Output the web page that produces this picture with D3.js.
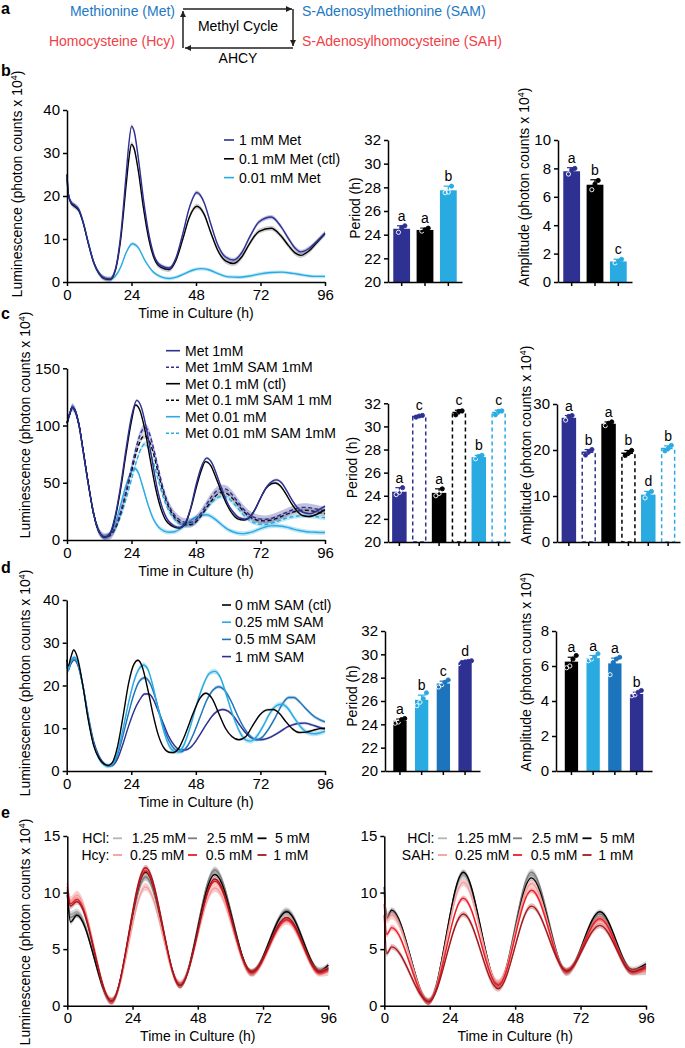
<!DOCTYPE html>
<html><head><meta charset="utf-8">
<script src="https://cdn.jsdelivr.net/npm/d3@7"></script>
<style>
body{margin:0;background:#fff}
svg{display:block;font-family:"Liberation Sans",Arial,Helvetica,sans-serif}
</style>
</head><body>
<svg id="fig" width="685" height="1048"></svg>
<script>
// ================= DATA =================
const hourTicks = [0, 24, 48, 72, 96];

// ---- panel b : luminescence traces [time h, value x10^4] ----
const bMet1 = [[0,25],[0.5,20.5],[1.5,18.6],[3,17.8],[4.5,16.8],[6,14],[8,9],[10,4.5],[12,2],[14,0.9],[16,0.7],[18,3],[20,11],[22,25],[23,32],[24,36.2],[25,35],[26.5,29],[28.5,19],[30.5,11],[32.5,6],[35,3.8],[38,3.2],[40.5,5.5],[43,11],[45.5,17.2],[48.3,20.8],[51,18.5],[53.5,13.5],[56,8.8],[59,5.8],[62,5.1],[65,6.8],[68,10.5],[71.5,14],[76,15.1],[79.5,13],[82.5,10],[85,7.8],[87,7.0],[90,7.8],[93,9.5],[96,11.4]];
const bCtl = [[0,25],[0.5,20.5],[1.5,18.4],[3,17.5],[4.5,16.5],[6,13.8],[8,8.8],[10,4.4],[12,1.9],[14,0.8],[16,0.6],[18,2.7],[20,10],[22,22.5],[23,28.5],[24,32],[25,31],[26.5,26],[28.5,17],[30.5,9.8],[32.5,5.4],[35,3.4],[38,2.9],[40.5,5],[43,9.8],[45.5,15],[48.3,17.6],[51,15.8],[53.5,11.5],[56,7.5],[59,4.9],[62,4.3],[65,5.8],[68,9],[71.5,11.8],[76,12.5],[79.5,10.8],[82.5,8.4],[85,6.7],[87,6.2],[90,7.2],[93,9.2],[96,11.2]];
const bLow = [[0,24],[0.5,20.3],[1.5,18.4],[3,17.5],[4.5,16.5],[6,13.8],[8,8.8],[10,4.4],[12,1.9],[14,0.8],[16,0.6],[18,1.4],[20,3.5],[22,6.8],[24.3,8.9],[26.5,8],[29,5],[32,2.4],[35,1.2],[38,0.8],[41,1.2],[44,2],[47,2.8],[50,3.1],[53,2.8],[56,2],[60,1.2],[64,1.1],[68,1.4],[72,1.9],[76,2.2],[80,2.3],[84,2],[88,1.6],[92,1.3],[96,1.3]];
const bLegend = ["1 mM Met", "0.1 mM Met (ctl)", "0.01 mM Met"];

const bPeriodMean = [24.5, 24.4, 27.75];
const bPeriodSem = [0.25, 0.15, 0.35];
const bPeriodDots = [[24.2,24.6,24.75],[24.3,24.4,24.55],[27.55,27.6,28.1]];
const bPeriodLetters = ["a","a","b"];
const bAmpMean = [7.8, 6.85, 1.45];
const bAmpSem = [0.25, 0.35, 0.15];
const bAmpDots = [[7.6,7.9,8.0],[6.5,6.9,7.15],[1.35,1.45,1.6]];
const bAmpLetters = ["a","b","c"];

// ---- panel c ----
const cStart = [[0,102],[1,110],[2,116],[3,113],[4.5,100],[6,78],[8,48],[10,22],[12,7],[14,2.5]];
const cMet1 = cStart.concat([[16,6],[18,22],[20,48],[22,80],[24,108],[26,122],[27.5,117],[29.5,98],[31.5,72],[33.5,46],[35.5,28],[38,16],[42,11],[44,15],[46,28],[48,48],[50,64],[52,71.5],[54,67],[56,55],[58,42],[60,31],[62,24],[64,19.5],[66.3,18.2],[68.5,21],[70.5,29],[72.5,39],[74.5,47],[76.5,51.5],[78,52.5],[80,49.5],[82,42],[84,34],[86,27.5],[88,24],[90.5,23],[93,25.5],[96,29.6]]);
const cMet1Sam = cStart.concat([[16,4],[18,11],[20,25],[22,43],[24,63],[26,83],[28,96],[29,98],[30.5,94],[32,82],[34,62],[36,43],[38,30],[40,22],[42,17.5],[44,15.5],[46,15.5],[48,18],[50,24],[52,31.5],[54,38.5],[56,43.5],[57.6,45],[59.5,44],[61.5,39.5],[63.5,33.5],[65.5,27.5],[67.5,23],[69.5,20],[71.5,18.5],[73.5,18],[75.5,18.5],[77.5,20],[79.5,22],[81.5,24],[83.5,26],[85.5,27.5],[88,28.5],[90,28.3],[92,27.5],[94,26.5],[96,25.5]]);
const cCtl = cStart.concat([[16,5.5],[18,20],[20,45],[22,76],[24,104],[25.5,118],[27,114],[29,96],[31,70],[33,45],[35,27],[37.5,15],[41.5,10.5],[44,14],[46,27],[48,45],[50,61],[51.5,68.5],[53.5,65],[55.5,54],[57.5,42],[59.5,31],[61.5,23],[63.5,18.5],[66,17.5],[68,20],[70,27],[72,36.5],[74,45],[76,49],[77.5,49.8],[79.5,47],[81.5,40],[83.5,32],[85.5,25.5],[87.5,21.5],[90,20.5],[93,22.5],[96,26.5]]);
const cCtlSam = cStart.concat([[16,4],[18,10.5],[20,23.5],[22,41],[24,60],[26,78],[27.8,89],[28.8,91],[30.3,88],[32,77],[34,58],[36,40.5],[38,28],[40,20],[42,15.5],[44,13.5],[46,13.5],[48,16],[50,21.5],[52,28.5],[54,35],[56,40],[57.5,41.5],[59.5,40.5],[61.5,36.5],[63.5,31],[65.5,25.5],[67.5,21],[69.5,18.3],[71.5,17],[73.5,16.7],[75.5,17.2],[77.5,18.5],[79.5,20.3],[81.5,22.3],[83.5,24],[85.5,25.3],[88,26],[90,25.8],[92,25],[94,24],[96,23]]);
const cLow = cStart.concat([[16,5],[18,15],[20,31],[22,48],[23.8,59],[25.2,62.5],[26.5,59],[28,48],[30,32],[32,19],[34,11.5],[36,8],[38,6.8],[40,7.2],[42,9.5],[44,13],[46,17],[48,20],[50,21.7],[52,22],[54,20],[56,16.5],[58,12.5],[60,9],[62,7],[64,5.8],[66,5.6],[68,6.5],[70,8],[72,10],[74,11.5],[76,12.3],[78,12.5],[80,12],[82,11],[84,9.7],[86,8.5],[88,7.6],[90,7],[92,6.8],[94,6.6],[96,6.6]]);
const cLowSam = cStart.concat([[16,4],[18,10],[20,21],[22,36],[24,53],[26,70],[27.8,81],[29,84],[30.5,80],[32,69],[34,52],[36,36],[38,25],[40,18],[42,14],[44,12.5],[46,13],[48,16],[50,21.5],[52,27.5],[54,33],[56,37],[58,38.3],[60,36.5],[62,32],[64,26.5],[66,21],[68,17],[70,14.8],[72,13.7],[74,13.6],[76,14.5],[78,16],[80,17.8],[82,19.3],[84,20.3],[86,21],[88,21.2],[90,21],[92,20.5],[94,20],[96,19.5]]);
const cLegend = ["Met 1mM","Met 1mM SAM 1mM","Met 0.1 mM (ctl)","Met 0.1 mM SAM 1 mM","Met 0.01 mM","Met 0.01 mM SAM 1mM"];

const cPeriodMean = [24.35, 30.85, 24.25, 31.2, 27.35, 31.2];
const cPeriodSem = [0.35, 0.1, 0.35, 0.2, 0.15, 0.2];
const cPeriodDots = [[24.1,24.3,24.7],[30.8,30.9,30.95],[24.0,24.2,24.6],[31.0,31.3,31.35],[27.2,27.4,27.5],[31.0,31.3,31.35]];
const cPeriodLetters = ["a","c","a","c","b","c"];
const cAmpMean = [27.0, 19.5, 25.7, 19.3, 10.3, 20.3];
const cAmpSem = [0.5, 0.6, 0.4, 0.6, 0.7, 0.6];
const cAmpDots = [[26.5,27.3,27.5],[18.9,19.6,20.1],[25.3,25.8,26.1],[18.8,19.3,19.9],[9.6,10.4,11.0],[19.8,20.3,21.0]];
const cAmpLetters = ["a","b","a","b","d","b"];

// ---- panel d ----
const dCtl = [[0,26],[0.5,24.5],[1.5,26.5],[2.6,28.3],[4,26.5],[6,20],[8,12],[10,6],[12,3],[14,1.6],[15.5,1.3],[17,2],[19,6],[21,13],[23,20.5],[25,25],[26.5,25.9],[28,24.5],[30,19.5],[32,13.5],[34,8.5],[36,5.5],[38,4.4],[39.6,4.3],[41.5,5.2],[44,8.5],[47,13.5],[49.5,17],[51.7,18.2],[54,17],[56.5,13.5],[59,10],[61.5,8],[64,7.3],[66.5,8],[69,10.5],[72,13.3],[74.5,14.3],[76.8,14.4],[79,13.5],[81.5,11.5],[84,9.8],[86.5,9],[89,9.1],[91.5,9.5],[94,9.9],[96,10]];
const dSam025 = [[0,25],[0.5,23.5],[1.5,25.5],[2.8,26.5],[4,25.5],[6,20],[8,12.5],[10,6.3],[12,3],[14,1.5],[15.5,1.2],[17,1.6],[19,4.5],[21,10],[23,16],[25,21],[27,24],[28.5,24.8],[30,24],[32,20],[34,14.5],[36,9.5],[38,6],[40,4.6],[41.5,4.5],[43.5,6],[46,10.5],[48.5,16],[51,20.5],[53,22.8],[55,23.3],[57,22],[59,18.5],[61.5,13.5],[64,9.5],[66.5,7.3],[68.5,7],[70.5,8],[73,10.5],[75.5,13.5],[78,15.3],[80,15.6],[82,14.8],[84.5,12.5],[87,10.3],[89.5,9],[92,8.7],[94,8.9],[96,9.3]];
const dSam05 = [[0,25],[0.5,23.5],[1.5,25.5],[2.8,26.5],[4,25.5],[6,20],[8,12.5],[10,6.3],[12,3],[14,1.5],[15.5,1.2],[17,1.5],[19,4],[21,8.5],[23,13.5],[25,18],[27,21],[29,21.8],[31,20.5],[33,17],[35,12.5],[37,8.5],[39,6],[41,4.7],[42.5,4.5],[44.5,5.5],[47,8.5],[49.5,12.5],[52,16.5],[54.5,19],[56.5,19.7],[58.5,19],[61,16.5],[63.5,13],[66,10],[68.5,8],[70.5,7.3],[72.5,7.8],[75,9.8],[77.5,12.5],[80,15.5],[82.5,17.2],[84.5,17.2],[86.5,16.2],[89,14.5],[91.5,13],[94,12],[96,11.5]];
const dSam1 = [[0,25],[0.5,23.5],[1.5,25],[2.8,26],[4,25],[6,20],[8,13],[10,7],[12,3.5],[14,1.7],[15.5,1.2],[17,1.3],[19,3],[21,6.5],[23,10.5],[25,14],[27,16.5],[29,18],[30.5,18],[32,17],[34,14],[36,11],[38,8],[40,6],[42,5],[44,4.9],[46,5.5],[48,7],[50,9],[52,11],[54,12.8],[56,14],[58,14.4],[60,14],[62,12.8],[64,11],[66,9.3],[68,8],[70,7.4],[72,7.3],[74,7.5],[76,8],[78,8.7],[80,9.5],[82,10.3],[84,10.8],[86,11.1],[88.5,11.2],[91,10.8],[93.5,10.3],[96,9.8]];
const dLegend = ["0 mM SAM (ctl)","0.25 mM SAM","0.5 mM SAM","1 mM SAM"];

const dPeriodMean = [24.3, 26.1, 27.5, 29.3];
const dPeriodSem = [0.15, 0.4, 0.2, 0.1];
const dPeriodDots = [[24.1,24.2,24.4,24.5],[25.6,25.9,26.2,26.7],[27.2,27.4,27.6,27.8],[29.2,29.3,29.35,29.4,29.45]];
const dPeriodLetters = ["a","b","c","d"];
const dAmpMean = [6.25, 6.45, 6.15, 4.4];
const dAmpSem = [0.25, 0.15, 0.3, 0.1];
const dAmpDots = [[5.9,6.0,6.4,6.6],[6.3,6.4,6.5,6.7],[5.5,6.2,6.4,6.5],[4.3,4.35,4.5,4.6]];
const dAmpLetters = ["a","a","a","b"];

// ---- panel e : key points (peaks / troughs) ----
const eTimeL = [0, 1.2, 3.5, 16.3, 28.8, 41.5, 54.3, 67.8, 80.7, 92.9, 96];
const eHcl125L = [10.3, 8.1, 8.3, 0.4, 11.3, 1.8, 11.9, 2.9, 8.3, 3.0, 3.3];
const eHcl25L  = [10.0, 7.8, 8.1, 0.4, 11.4, 1.8, 12.0, 2.9, 8.4, 3.1, 3.4];
const eHcl5L   = [9.8, 7.4, 8.0, 0.4, 11.8, 1.8, 11.6, 3.0, 8.3, 3.1, 3.6];
const eHcy025  = [10.8, 9.3, 9.8, 0.4, 10.5, 1.9, 10.4, 2.9, 7.5, 2.9, 3.0];
const eHcy05   = [10.5, 9.0, 9.4, 0.4, 11.9, 1.8, 11.0, 2.9, 7.6, 2.9, 3.2];
const eHcy1    = [10.2, 8.8, 9.2, 0.4, 12.2, 1.8, 11.2, 3.0, 7.8, 3.0, 3.3];
const eTimeR = [0, 0.9, 2.7, 16.3, 29, 41.8, 54, 66.9, 79.1, 91, 96];
const eHcl125R = [10.0, 8.0, 8.3, 0.35, 11.5, 1.9, 11.6, 2.9, 7.9, 3.0, 3.0];
const eHcl25R  = [10.0, 7.8, 8.3, 0.35, 11.7, 1.9, 11.8, 3.0, 8.1, 3.0, 3.4];
const eHcl5R   = [10.5, 7.7, 8.45, 0.35, 11.8, 1.9, 11.3, 3.0, 8.3, 3.2, 3.7];
const eSah025  = [10.2, 7.6, 8.0, 0.35, 10.9, 2.0, 10.8, 3.0, 7.6, 3.0, 3.1];
const eSah05   = [9.0, 6.3, 6.9, 0.35, 9.5, 1.8, 10.2, 3.0, 7.7, 3.0, 3.3];
const eSah1    = [8.0, 4.6, 5.2, 0.35, 8.1, 1.5, 8.8, 3.1, 7.1, 3.0, 3.5];
const eHclLabels = ["1.25 mM","2.5 mM","5 mM"];
const eHcyLabels = ["0.25 mM","0.5 mM","1 mM"];

// ================= STYLE =================
const NAVY="#2e3192", SKY="#29abe2", MID="#1c75bc", BLK="#000000";
const LGREY="#b5b5b5", GREY="#7d7d7d", PINK="#f59c9c", RED="#ed1c24", DRED="#a3161b";
const TXTBLUE="#2378c3", TXTRED="#ef4146";

const svg = d3.select("#fig");
const zip = (t, v) => t.map((d, i) => [d, v[i]]);

function styleAxis(a, fs){
  a.attr("font-size", fs).attr("font-family", null);
  a.select(".domain").attr("stroke","#000").attr("stroke-width",1.5);
  a.selectAll(".tick line").attr("stroke","#000").attr("stroke-width",1.5);
  a.selectAll(".tick text").attr("fill","#000");
}
function rotLabel(x, cy, main, sup, tail){
  const t = svg.append("text").attr("transform",`translate(${x},${cy}) rotate(-90)`)
    .attr("text-anchor","middle").attr("font-size",14).attr("fill","#000");
  t.append("tspan").text(main);
  if (sup){
    t.append("tspan").attr("dy",-5).attr("font-size",9).text(sup);
    t.append("tspan").attr("dy",5).text(tail);
  }
}
function panelLetter(l, x, y){
  svg.append("text").attr("x",x).attr("y",y).attr("font-size",16).attr("font-weight","bold").text(l);
}

function lineChart(o){
  const x = d3.scaleLinear().domain([0,96]).range([o.x0,o.x1]);
  const y = d3.scaleLinear().domain([0,o.yMax]).range([o.yBot,o.yTop]);
  const g = svg.append("g");
  o.series.forEach(s=>{
    const area = d3.area().curve(d3.curveMonotoneX).x(d=>x(d[0]))
      .y0(d=>y(Math.max(0,d[1]-s.sem))).y1(d=>y(d[1]+s.sem));
    g.append("path").datum(s.pts).attr("d",area)
      .attr("fill", s.color===BLK ? "#777" : s.color).attr("opacity", s.bandOp || 0.3);
    const line = d3.line().curve(d3.curveMonotoneX).x(d=>x(d[0])).y(d=>y(d[1]));
    g.append("path").datum(s.pts).attr("d",line).attr("fill","none")
      .attr("stroke",s.color).attr("stroke-width",1.4)
      .attr("stroke-dasharray", s.dash ? "4,2.5" : null);
  });
  const ya = g.append("g").attr("transform",`translate(${o.x0},0)`)
    .call(d3.axisLeft(y).tickValues(o.yTicks).tickSize(4).tickSizeOuter(0).tickPadding(3));
  const xa = g.append("g").attr("transform",`translate(0,${o.yBot})`)
    .call(d3.axisBottom(x).tickValues(hourTicks).tickSize(4).tickSizeOuter(0).tickPadding(3));
  styleAxis(ya,15); styleAxis(xa,15);
  g.append("text").attr("x",(o.x0+o.x1)/2).attr("y",o.yBot+35.5).attr("text-anchor","middle")
    .attr("font-size",14).text("Time in Culture (h)");
}

function barChart(o){
  const idx = o.means.map((_,i)=>i);
  const x = d3.scaleBand().domain(idx).range([o.ax,o.axEnd]).paddingInner(o.pi).paddingOuter(o.po);
  const y = d3.scaleLinear().domain(o.domain).range([o.yBot,o.yTop]);
  const g = svg.append("g");
  const bw = x.bandwidth();
  idx.forEach(i=>{
    const m = o.means[i], s = o.sems[i], c = o.colors[i], dashed = o.dashed ? o.dashed[i] : false;
    const bx = x(i), cx = bx + bw/2;
    if (dashed){
      g.append("rect").attr("x",bx+0.75).attr("y",y(m)).attr("width",bw-1.5).attr("height",o.yBot-y(m))
        .attr("fill","#fff").attr("stroke",c).attr("stroke-width",1.5).attr("stroke-dasharray","4,3");
    } else {
      g.append("rect").attr("x",bx).attr("y",y(m)).attr("width",bw).attr("height",o.yBot-y(m)).attr("fill",c);
    }
    g.append("line").attr("x1",cx).attr("x2",cx).attr("y1",y(m-s)).attr("y2",y(m+s))
      .attr("stroke",c).attr("stroke-width",1.2);
    g.append("line").attr("x1",cx-bw*0.28).attr("x2",cx+bw*0.28).attr("y1",y(m+s)).attr("y2",y(m+s))
      .attr("stroke",c).attr("stroke-width",1.2);
    const dots = o.dots[i], n = dots.length;
    dots.forEach((v,k)=>{
      const open = !dashed && v < m;
      g.append("circle").attr("cx",cx+(k-(n-1)/2)*3.2).attr("cy",y(v)).attr("r",2.1)
        .attr("fill", open ? "none" : c).attr("stroke", open ? "#fff" : c).attr("stroke-width",0.9);
    });
    g.append("text").attr("x",cx).attr("y",y(m+s)-5).attr("text-anchor","middle")
      .attr("font-size",14).text(o.letters[i]);
  });
  const ya = g.append("g").attr("transform",`translate(${o.ax},0)`)
    .call(d3.axisLeft(y).tickValues(o.ticks).tickSize(4).tickSizeOuter(0).tickPadding(3));
  const xa = g.append("g").attr("transform",`translate(0,${o.yBot})`)
    .call(d3.axisBottom(x).tickSize(4).tickSizeOuter(0).tickFormat(""));
  styleAxis(ya,15); styleAxis(xa,15);
}

function legend(items, x1, x2, tx, y0, dy){
  items.forEach((it,i)=>{
    const y = y0 + i*dy;
    svg.append("line").attr("x1",x1).attr("x2",x2).attr("y1",y).attr("y2",y)
      .attr("stroke",it.color).attr("stroke-width",1.6).attr("stroke-dasharray",it.dash?"3,2":null);
    svg.append("text").attr("x",tx).attr("y",y+5).attr("font-size",14).text(it.label);
  });
}

// ================= PANEL a =================
panelLetter("a", 1, 14);
const defs = svg.append("defs");
defs.append("marker").attr("id","arr").attr("viewBox","0 0 10 10").attr("refX",10).attr("refY",5)
  .attr("markerWidth",6).attr("markerHeight",6).attr("markerUnits","userSpaceOnUse").attr("orient","auto")
  .append("path").attr("d","M0,0 L10,5 L0,10 Z").attr("fill","#231f20");
[["M183,9 H292"],["M293,9 V46"],["M293,48 H185"],["M183,48 V11"]].forEach(p=>{
  svg.append("path").attr("d",p[0]).attr("stroke","#231f20").attr("stroke-width",1.5)
    .attr("fill","none").attr("marker-end","url(#arr)");
});
svg.append("text").attr("x",175).attr("y",16).attr("text-anchor","end").attr("font-size",14).attr("fill",TXTBLUE).text("Methionine (Met)");
svg.append("text").attr("x",175).attr("y",46).attr("text-anchor","end").attr("font-size",14).attr("fill",TXTRED).text("Homocysteine (Hcy)");
svg.append("text").attr("x",302).attr("y",16).attr("font-size",14).attr("fill",TXTBLUE).text("S-Adenosylmethionine (SAM)");
svg.append("text").attr("x",302).attr("y",46).attr("font-size",14).attr("fill",TXTRED).text("S-Adenosylhomocysteine (SAH)");
svg.append("text").attr("x",238).attr("y",31).attr("text-anchor","middle").attr("font-size",14).text("Methyl Cycle");
svg.append("text").attr("x",238).attr("y",63).attr("text-anchor","middle").attr("font-size",14).text("AHCY");

// ================= PANEL b =================
panelLetter("b", 1, 76);
lineChart({x0:67, x1:325, yTop:110, yBot:282, yMax:40, yTicks:[0,10,20,30,40],
  series:[{pts:bLow,color:SKY,sem:0.4},{pts:bCtl,color:BLK,sem:0.6,bandOp:0.35},{pts:bMet1,color:NAVY,sem:0.5}]});
rotLabel(22, 184, "Luminescence (photon counts x 10", "4", ")");
legend([{label:bLegend[0],color:NAVY},{label:bLegend[1],color:BLK},{label:bLegend[2],color:SKY}], 224, 234, 239, 140, 18.8);
barChart({ax:388, axEnd:462, pi:0.28, po:0.226, yBot:282, yTop:140, domain:[20,32], ticks:[20,22,24,26,28,30,32],
  means:bPeriodMean, sems:bPeriodSem, dots:bPeriodDots, letters:bPeriodLetters, colors:[NAVY,BLK,SKY]});
rotLabel(360, 208, "Period (h)");
barChart({ax:558, axEnd:632, pi:0.28, po:0.226, yBot:282, yTop:140, domain:[0,10], ticks:[0,2,4,6,8,10],
  means:bAmpMean, sems:bAmpSem, dots:bAmpDots, letters:bAmpLetters, colors:[NAVY,BLK,SKY]});
rotLabel(529, 187, "Amplitude (photon counts x 10", "4", ")");

// ================= PANEL c =================
panelLetter("c", 1, 319);
lineChart({x0:67, x1:325, yTop:368.3, yBot:540, yMax:150, yTicks:[0,50,100,150],
  series:[{pts:cLow,color:SKY,sem:2},{pts:cLowSam,color:SKY,sem:2,dash:true},
          {pts:cCtlSam,color:BLK,sem:2.5,dash:true,bandOp:0.3},{pts:cMet1Sam,color:NAVY,sem:3.5,dash:true},
          {pts:cCtl,color:BLK,sem:1.2},{pts:cMet1,color:NAVY,sem:1.2}]});
rotLabel(30, 425, "Luminescence (photon counts x 10", "4", ")");
legend([{label:cLegend[0],color:NAVY},{label:cLegend[1],color:NAVY,dash:true},
        {label:cLegend[2],color:BLK},{label:cLegend[3],color:BLK,dash:true},
        {label:cLegend[4],color:SKY},{label:cLegend[5],color:SKY,dash:true}], 166, 180, 185, 350.7, 16.5);
barChart({ax:388, axEnd:510, pi:0.27, po:0.208, yBot:542, yTop:403.3, domain:[20,32], ticks:[20,22,24,26,28,30,32],
  means:cPeriodMean, sems:cPeriodSem, dots:cPeriodDots, letters:cPeriodLetters,
  colors:[NAVY,NAVY,BLK,BLK,SKY,SKY], dashed:[false,true,false,true,false,true]});
rotLabel(357, 467.5, "Period (h)");
barChart({ax:557, axEnd:680, pi:0.27, po:0.233, yBot:542, yTop:404, domain:[0,30], ticks:[0,10,20,30],
  means:cAmpMean, sems:cAmpSem, dots:cAmpDots, letters:cAmpLetters,
  colors:[NAVY,NAVY,BLK,BLK,SKY,SKY], dashed:[false,true,false,true,false,true]});
rotLabel(531, 445, "Amplitude (photon counts x 10", "4", ")");

// ================= PANEL d =================
panelLetter("d", 1, 573);
lineChart({x0:66.7, x1:325, yTop:600, yBot:771, yMax:40, yTicks:[0,10,20,30,40],
  series:[{pts:dSam1,color:NAVY,sem:0.3},{pts:dSam05,color:MID,sem:0.4},{pts:dSam025,color:SKY,sem:0.6},{pts:dCtl,color:BLK,sem:0.3}]});
rotLabel(30, 683, "Luminescence (photon counts x 10", "4", ")");
legend([{label:dLegend[0],color:BLK},{label:dLegend[1],color:SKY},{label:dLegend[2],color:MID},{label:dLegend[3],color:NAVY}], 222, 231, 235, 605, 17.2);
barChart({ax:385, axEnd:480, pi:0.387, po:0.382, yBot:771, yTop:631, domain:[20,32], ticks:[20,22,24,26,28,30,32],
  means:dPeriodMean, sems:dPeriodSem, dots:dPeriodDots, letters:dPeriodLetters, colors:[BLK,SKY,MID,NAVY]});
rotLabel(357, 696, "Period (h)");
barChart({ax:556, axEnd:652, pi:0.387, po:0.405, yBot:771, yTop:631, domain:[0,8], ticks:[0,2,4,6,8],
  means:dAmpMean, sems:dAmpSem, dots:dAmpDots, letters:dAmpLetters, colors:[BLK,SKY,MID,NAVY]});
rotLabel(531, 672, "Amplitude (photon counts x 10", "4", ")");

// ================= PANEL e =================
panelLetter("e", 1, 818);
lineChart({x0:67.3, x1:328.3, yTop:836, yBot:1005.7, yMax:15, yTicks:[0,5,10,15],
  series:[{pts:zip(eTimeL,eHcl125L),color:LGREY,sem:0.3,bandOp:0.5},{pts:zip(eTimeL,eHcl25L),color:GREY,sem:0.3},
          {pts:zip(eTimeL,eHcl5L),color:BLK,sem:0.25},{pts:zip(eTimeL,eHcy025),color:PINK,sem:0.35,bandOp:0.5},
          {pts:zip(eTimeL,eHcy05),color:RED,sem:0.25},{pts:zip(eTimeL,eHcy1),color:DRED,sem:0.25}]});
lineChart({x0:384.3, x1:646, yTop:836, yBot:1005.7, yMax:15, yTicks:[0,5,10,15],
  series:[{pts:zip(eTimeR,eHcl125R),color:LGREY,sem:0.3,bandOp:0.5},{pts:zip(eTimeR,eHcl25R),color:GREY,sem:0.3},
          {pts:zip(eTimeR,eHcl5R),color:BLK,sem:0.25},{pts:zip(eTimeR,eSah025),color:PINK,sem:0.35,bandOp:0.5},
          {pts:zip(eTimeR,eSah05),color:RED,sem:0.25},{pts:zip(eTimeR,eSah1),color:DRED,sem:0.25}]});
rotLabel(30, 932, "Luminescence (photon counts x 10", "4", ")");

function eLegend(dx, treatName){
  const rows = [{name:"HCl:", labels:eHclLabels, colors:[LGREY,GREY,BLK], y:838.3, tx:[131.7,206.7,275]},
                {name:treatName, labels:eHcyLabels, colors:[PINK,RED,DRED], y:855, tx:[130,205.7,273.3]}];
  const lx = [[113,122],[188,197],[257.5,266.5]];
  rows.forEach(r=>{
    svg.append("text").attr("x",dx+109.5).attr("y",r.y+5).attr("text-anchor","end").attr("font-size",14).text(r.name);
    r.labels.forEach((lab,i)=>{
      svg.append("line").attr("x1",dx+lx[i][0]).attr("x2",dx+lx[i][1]).attr("y1",r.y).attr("y2",r.y)
        .attr("stroke",r.colors[i]).attr("stroke-width",1.8);
      svg.append("text").attr("x",dx+r.tx[i]).attr("y",r.y+5).attr("font-size",14).text(lab);
    });
  });
}
eLegend(0, "Hcy:");
eLegend(325, "SAH:");
</script>
</body></html>
